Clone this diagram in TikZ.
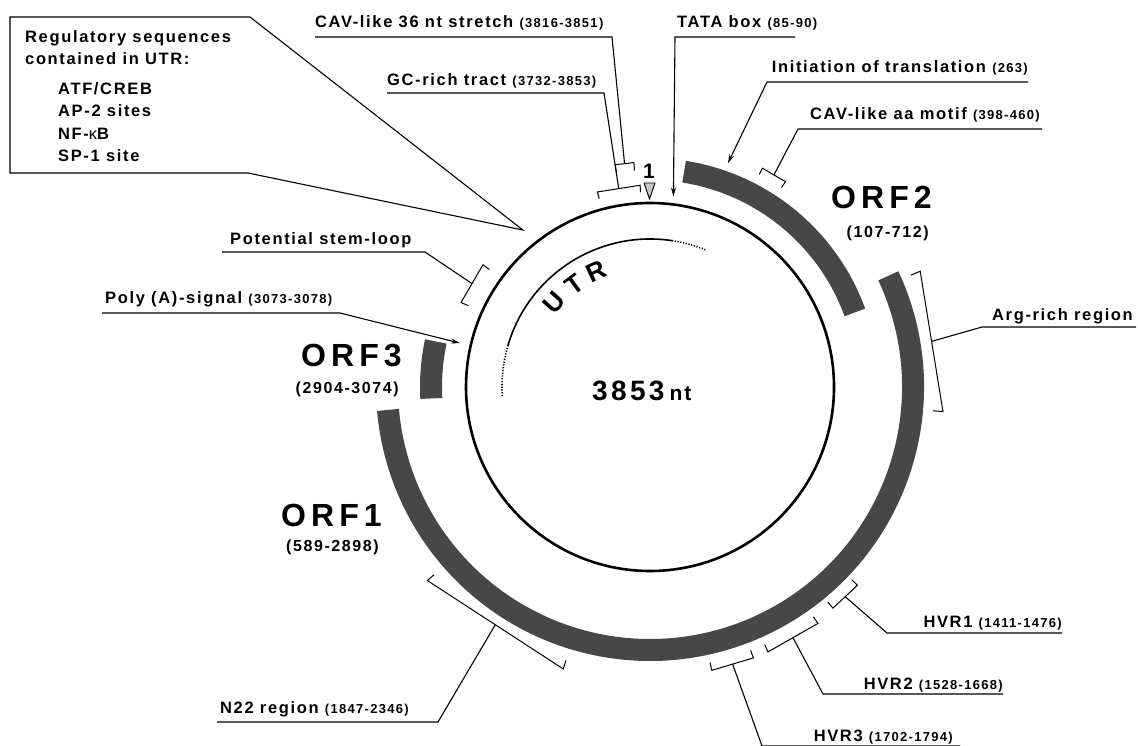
\documentclass[tikz,border=0pt]{standalone}
\usepackage{fontspec}
\setmainfont{Liberation Sans}
\newfontfamily\lsp{Liberation Sans}[LetterSpace=10]
\newfontfamily\lspw{Liberation Sans}[LetterSpace=16]
\newfontfamily\lspb{Liberation Sans}[LetterSpace=12]
\usetikzlibrary{arrows.meta,calc}
\newcommand\nm[1]{{\fontsize{13}{14}\selectfont #1}}
\newcommand\bracketat[5]{%
  \coordinate (#1a) at ($(C)+({#2}:{#4})$);
  \coordinate (#1b) at ($(C)+({#3}:{#4})$);
  \coordinate (#1m) at ($(#1a)!0.5!(#1b)$);
  \draw[brk] ($(C)+({#2}:{#4-#5})$) -- (#1a) -- (#1b) -- ($(C)+({#3}:{#4-#5})$);
}
\tikzset{
  lab/.style={font=\lsp\bfseries\fontsize{16.5}{18}\selectfont, inner sep=0pt},
  orf/.style={font=\lspw\bfseries\fontsize{32}{34}\selectfont, inner sep=0pt, anchor=base east},
  orfn/.style={font=\lsp\bfseries\fontsize{16}{18}\selectfont, inner sep=0pt, anchor=base east},
  utr/.style={font=\bfseries\fontsize{26}{28}\selectfont, inner sep=0pt},
  uline/.style={line width=1.1pt},
  brk/.style={line width=1pt},
  band/.style={line width=22pt, draw=black!72},
  arr/.style={uline, -{Stealth[length=9pt,width=5pt]}},
}
\begin{document}
\begin{tikzpicture}[x=1pt,y=1pt]
\useasboundingbox (0,0) rectangle (1138,-746);
\coordinate (C) at (650,-387);

% genome circle
\node[circle, draw, line width=2.6pt, minimum size=368pt, inner sep=0pt] (genome) at (C) {};
\node[anchor=base west, inner sep=0pt] (len) at (592,-400)
  {{\lspb\bfseries\fontsize{28}{30}\selectfont 3853}\hspace{5pt}{\lsp\bfseries\fontsize{21}{22}\selectfont nt}};

% ORF bands
\draw[band] ($(C)+(81:218)$) arc[start angle=81, end angle=20, radius=218];
\draw[band] ($(C)+(168:219)$) arc[start angle=168, end angle=183, radius=219];
\draw[band] ($(C)+(25:263)$) arc[start angle=25, end angle=-175, radius=263];

% UTR arc
\draw[line width=1.6pt] ($(C)+(81:148)$) arc[start angle=81, end angle=163.6, radius=148];
\draw[line width=1.6pt, dash pattern=on 1.2pt off 1.6pt] ($(C)+(68:148)$) arc[start angle=68, end angle=81, radius=148];
\draw[line width=1.6pt, dash pattern=on 1.2pt off 1.6pt] ($(C)+(163.6:148)$) arc[start angle=163.6, end angle=184, radius=148];
\node[utr, rotate=48.5] (u1) at ($(C)+(138.5:128)$) {U};
\node[utr, rotate=36.5] (u2) at ($(C)+(126.5:127)$) {T};
\node[utr, rotate=25] (u3) at ($(C)+(115:128)$) {R};

% ORF labels
\node[orf] (orf2) at (932,-209) {ORF2};
\node[orfn] (orf2n) at (929,-238) {(107-712)};
\node[orf] (orf3) at (402,-366) {ORF3};
\node[orfn] (orf3n) at (399,-393) {(2904-3074)};
\node[orf] (orf1) at (382,-526) {ORF1};
\node[orfn] (orf1n) at (379,-551) {(589-2898)};

% position 1
\node[font=\bfseries\fontsize{21}{22}\selectfont, inner sep=0pt] (one) at (649,-171) {1};
\draw[fill=gray!45, line width=0.9pt] (644,-183) -- (655,-183) -- (649.5,-199) -- cycle;

% regulatory box
\node[lab, anchor=base west] (reg1) at (25,-43) {Regulatory sequences};
\node[lab, anchor=base west] (reg2) at (25,-65) {contained in UTR:};
\node[lab, anchor=base west] (reg3) at (58,-95) {ATF/CREB};
\node[lab, anchor=base west] (reg4) at (58,-117) {AP-2 sites};
\node[lab, anchor=base west] (reg5) at (58,-140) {NF-{\mdseries κ}B};
\node[lab, anchor=base west] (reg6) at (58,-162) {SP-1 site};
\coordinate (boxTL) at (10,-17);
\coordinate (boxTR) at (250,-17);
\coordinate (boxBR) at (248,-173);
\coordinate (boxBL) at (10,-173);
\coordinate (regtip) at ($(C)+(129:202)$);
\draw[uline] (boxTR) -- (boxTL) -- (boxBL) -- (boxBR) -- (regtip) -- cycle;

% CAV-like 36 nt stretch
\node[lab, anchor=base west] (cav36) at (315,-28) {CAV-like 36 nt stretch \nm{(3816-3851)}};
\coordinate (cav36L) at (315,-37);
\coordinate (cav36R) at (612,-37);
\bracketat{cavb}{98.9}{94.1}{225}{8}
\draw[uline] (cav36L) -- (cav36R) -- (cavbm);

% GC-rich tract
\node[lab, anchor=base west] (gc) at (387,-86) {GC-rich tract \nm{(3732-3853)}};
\coordinate (gcL) at (387,-93);
\coordinate (gcR) at (604,-93);
\bracketat{gcb}{105.1}{92.8}{202}{7}
\draw[uline] (gcL) -- (gcR) -- (gcbm);

% TATA box
\node[lab, anchor=base west] (tata) at (677,-28) {TATA box \nm{(85-90)}};
\coordinate (tataL) at (675,-37);
\coordinate (tataR) at (795,-37);
\coordinate (tatatip) at ($(C)+(83:192)$);
\draw[arr] (tataR) -- (tataL) -- (tatatip);

% Initiation of translation
\node[lab, anchor=base east] (init) at (1028,-73) {Initiation of translation \nm{(263)}};
\coordinate (initR) at (1028,-82);
\coordinate (initL) at (767,-82);
\coordinate (inittip) at ($(C)+(70.8:237)$);
\draw[arr] (initR) -- (initL) -- (inittip);

% CAV-like aa motif
\node[lab, anchor=base east] (cavaa) at (1040,-120) {CAV-like aa motif \nm{(398-460)}};
\coordinate (cavaaR) at (1042,-129);
\coordinate (cavaaL) at (798,-129);
\bracketat{aab}{62.8}{56.6}{246}{7}
\draw[uline] (cavaaR) -- (cavaaL) -- (aabm);

% Arg-rich region
\node[lab, anchor=base east] (arg) at (1133,-320) {Arg-rich region};
\coordinate (argR) at (1136,-327);
\coordinate (argL) at (982,-327);
\bracketat{argb}{23.2}{-4.8}{294}{10}
\draw[uline] (argR) -- (argL) -- (argbm);

% HVR1
\node[lab, anchor=base east] (hvr1) at (1062,-627) {HVR1 \nm{(1411-1476)}};
\coordinate (h1R) at (1062,-633);
\coordinate (h1L) at (887,-633);
\bracketat{h1b}{-50.4}{-43.7}{287}{8}
\draw[uline] (h1R) -- (h1L) -- (h1bm);

% HVR2
\node[lab, anchor=base east] (hvr2) at (1003,-689) {HVR2 \nm{(1528-1668)}};
\coordinate (h2R) at (1003,-694);
\coordinate (h2L) at (823,-694);
\bracketat{h2b}{-66}{-54.6}{290}{8}
\draw[uline] (h2R) -- (h2L) -- (h2bm);

% HVR3
\node[lab, anchor=base east] (hvr3) at (953,-741) {HVR3 \nm{(1702-1794)}};
\coordinate (h3R) at (960,-746);
\coordinate (h3L) at (762,-746);
\bracketat{h3b}{-77.7}{-69.1}{290}{8}
\draw[uline] (h3R) -- (h3L) -- (h3bm);

% N22 region
\node[lab, anchor=base west] (n22) at (220,-713) {N22 region \nm{(1847-2346)}};
\coordinate (n22L) at (217,-722);
\coordinate (n22R) at (438,-722);
\bracketat{n22b}{-139}{-107.1}{295}{9}
\draw[uline] (n22L) -- (n22R) -- (n22bm);

% Poly (A)-signal
\node[lab, anchor=base west] (poly) at (105,-303) {Poly (A)-signal \nm{(3073-3078)}};
\coordinate (polyL) at (102,-313);
\coordinate (polyR) at (340,-313);
\coordinate (polytip) at ($(C)+(167:195)$);
\draw[arr] (polyL) -- (polyR) -- (polytip);

% Potential stem-loop
\node[lab, anchor=base west] (sl) at (230,-245) {Potential stem-loop};
\coordinate (slL) at (222,-252);
\coordinate (slR) at (425,-252);
\bracketat{slb}{143.8}{155.9}{207}{8}
\draw[uline] (slL) -- (slR) -- (slbm);
\end{tikzpicture}
\end{document}
